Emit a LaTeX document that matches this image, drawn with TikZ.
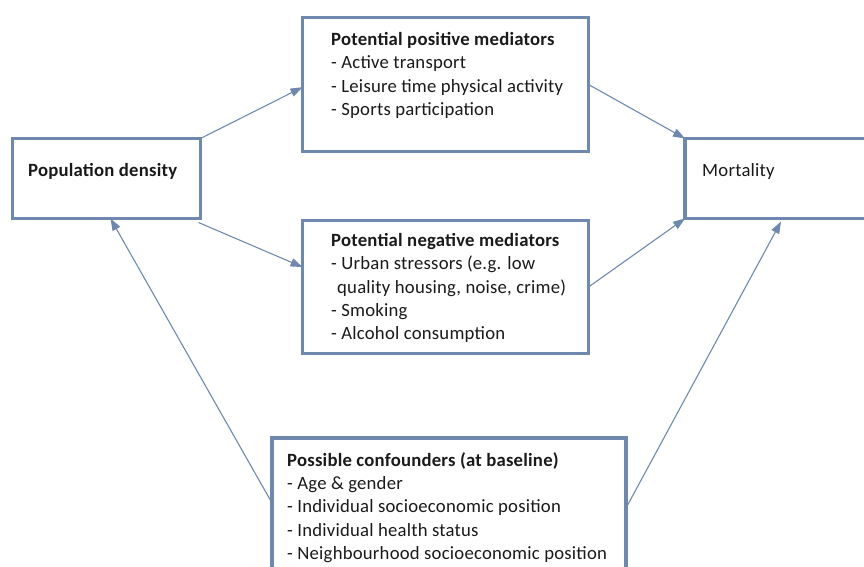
\documentclass[tikz,border=0pt]{standalone}
\usepackage{fontspec}
\setmainfont[LetterSpace=1.2]{Carlito}
\usetikzlibrary{arrows.meta,calc}
\definecolor{bord}{HTML}{6F89AE}
\definecolor{ink}{HTML}{1A1A1A}
\begin{document}
\begin{tikzpicture}[x=1pt,y=-1pt,
  boxst/.style={draw=bord,line width=3.5pt,fill=white,inner sep=0pt,outer sep=0pt},
  txt/.style={anchor=north west,inner sep=0pt,align=left,text=ink,font=\fontsize{18.7}{23.4}\selectfont},
  conn/.style={draw=bord,line width=1.1pt,-{Triangle[length=12pt,width=8.5pt]}}]
\useasboundingbox (0,0) rectangle (864,566);
\clip (0,0) rectangle (864,566);
% boxes (centre, size)
\node[boxst,minimum width=188pt,minimum height=80pt] (pop) at (106.5,178.5) {};
\node[boxst,minimum width=286pt,minimum height=134pt] (pos) at (445.5,84.5) {};
\node[boxst,minimum width=286pt,minimum height=133pt] (neg) at (445.5,287) {};
\node[boxst,minimum width=196pt,minimum height=80pt] (mort) at (783,178.5) {};
\node[boxst,minimum width=354pt,minimum height=150pt] (conf) at (449,513) {};
% texts
\node[txt] (poptxt) at (28,163) {\textbf{Population density}};
\node[txt] (postxt) at (331,32) {\textbf{Potential positive mediators}\\- Active transport\\- Leisure time physical activity\\- Sports participation};
\node[txt] (negtxt) at (331,233) {\textbf{Potential negative mediators}\\- Urban stressors (e.g. low\\\hspace*{6pt}quality housing, noise, crime)\\- Smoking\\- Alcohol consumption};
\node[txt] (morttxt) at (702,163) {Mortality};
\node[txt] (conftxt) at (287,452) {\textbf{Possible confounders (at baseline)}\\- Age \& gender\\- Individual socioeconomic position\\- Individual health status\\- Neighbourhood socioeconomic position};
% connectors
\draw[conn] (pop.north east) -- ($(pos.north west)!0.52!(pos.south west)$);
\draw[conn] ($(pop.south east)+(-2,4)$) -- ($(neg.north west)!0.35!(neg.south west)$);
\draw[conn] (pos.east) -- (mort.north west);
\draw[conn] (neg.east) -- (mort.south west);
\draw[conn] ($(conf.north west)+(0,65)$) -- ($(pop.south)+(4,0)$);
\draw[conn] ($(conf.north east)+(0,70)$) -- ($(mort.south)+(-2,3)$);
\end{tikzpicture}
\end{document}
